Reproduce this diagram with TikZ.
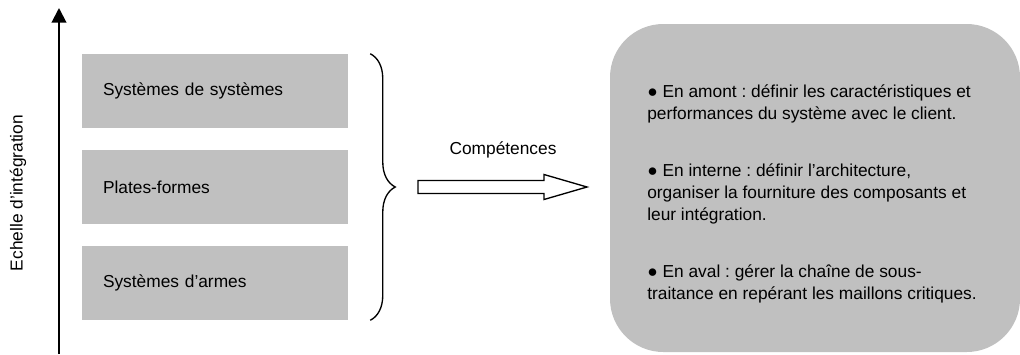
\documentclass[tikz,border=0pt]{standalone}
\usepackage{fontspec}
\setmainfont{Liberation Sans}
\frenchspacing
\usetikzlibrary{arrows.meta,decorations.pathreplacing}
\definecolor{boxgray}{HTML}{C0C0C0}
\begin{document}
\begin{tikzpicture}[x=.75pt,y=-.75pt,font=\fontsize{13}{16.5}\selectfont,
  level/.style={fill=boxgray,text width=168pt,align=left,inner xsep=15.75pt,minimum height=55.5pt},
  para/.style={align=left,inner sep=0pt}]
\useasboundingbox (0,0) rectangle (1020,354);
% axe vertical
\coordinate (bas) at (59,354);
\coordinate (haut) at (59,8);
\draw[line width=1.5pt,-{Triangle[length=11pt,width=11pt]}] (bas) -- (haut);
\node[rotate=90] (echelle) at (18,193) {Echelle d’intégration};
\foreach \n/\y/\t in {
  sds/91/Systèmes de systèmes,
  pf/187/Plates-formes,
  sa/283/Systèmes d’armes}
    \node[level] (\n) at (215,\y) {\t};
\draw[line width=1pt,decorate,decoration={brace,amplitude=18.75pt}]
  ([xshift=16.5pt]sds.north east) -- ([xshift=16.5pt]sa.south east);
% fleche
\node (competences) at (503,150) {Compétences};
\coordinate (fl) at (418,187);
\coordinate (fr) at (587,187);
\draw[line width=1pt,fill=white] (fl) ++(0,-6.5) -- ++(126,0) -- ++(0,-6) -- (fr)
  -- ++(-43,12.5) -- ++(0,-6) -- ++(-126,0) -- cycle;
\node[fill=boxgray,rounded corners=40pt,minimum width=307.5pt,minimum height=246pt] (taches) at (815,188) {};
% base = derniere ligne
\node[para,anchor=base west] (amont) at (647,119)
  {● En amont : définir les caractéristiques et\\performances du système avec le client.};
\node[para,anchor=base west] (interne) at (647,220)
  {● En interne : définir l’architecture,\\organiser la fourniture des composants et\\leur intégration.};
\node[para,anchor=base west] (aval) at (647,299)
  {● En aval : gérer la chaîne de sous-\\traitance en repérant les maillons critiques.};
\end{tikzpicture}
\end{document}
